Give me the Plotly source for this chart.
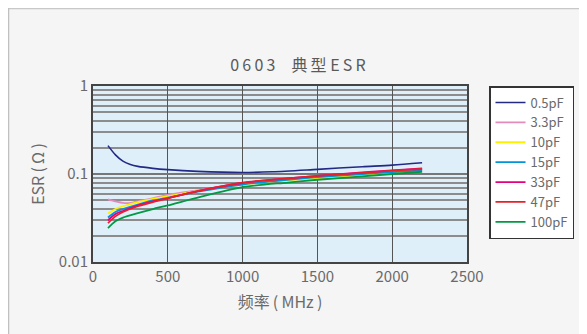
import plotly.graph_objects as go

# ---- data ----
series_names = ["0.5pF", "3.3pF", "10pF", "15pF", "33pF", "47pF", "100pF"]
series_colors = ["#232a86", "#e38bbd", "#fff000", "#0095d9", "#e4007f", "#e8202a", "#009a44"]

freq_05 = [100, 150, 200, 250, 300, 400, 500, 700, 1000, 1200, 1500, 1800, 2000, 2200]
esr_05 = [0.21, 0.165, 0.14, 0.128, 0.122, 0.116, 0.112, 0.107, 0.104, 0.106, 0.113, 0.121, 0.126, 0.134]

freq_33 = [100, 150, 200, 250, 300, 400, 500, 700, 1000, 1300, 1500, 1800, 2000, 2200]
esr_33 = [0.0516, 0.049, 0.047, 0.047, 0.049, 0.053, 0.058, 0.065, 0.077, 0.086, 0.091, 0.099, 0.104, 0.110]

freq = [100, 150, 200, 300, 400, 500, 700, 1000, 1300, 1500, 1800, 2000, 2200]
esr_10 = [0.0355, 0.040, 0.043, 0.048, 0.052, 0.056, 0.064, 0.076, 0.085, 0.090, 0.097, 0.102, 0.108]
esr_15 = [0.032, 0.037, 0.040, 0.045, 0.050, 0.054, 0.063, 0.076, 0.086, 0.092, 0.100, 0.105, 0.110]
esr_33pf = [0.0298, 0.035, 0.038, 0.044, 0.049, 0.053, 0.064, 0.079, 0.089, 0.095, 0.104, 0.110, 0.116]
esr_47 = [0.0277, 0.033, 0.037, 0.043, 0.048, 0.053, 0.064, 0.080, 0.089, 0.095, 0.103, 0.109, 0.114]
esr_100 = [0.0243, 0.029, 0.032, 0.036, 0.040, 0.044, 0.054, 0.071, 0.080, 0.086, 0.094, 0.100, 0.106]

x_ticks = [0, 500, 1000, 1500, 2000, 2500]
y_tickvals = [0.01, 0.1, 1]
y_ticktext = ["0.01", "0.1", "1"]

TS = "\u2009"  # thin space for letter spacing
title_text = TS.join("0603") + "\u2003" + TS.join("典型") + " " + TS.join("ESR")
x_title = "频率" + TS + "(" + TS + "MHz" + TS + ")"
y_title = "ESR" + TS + "(" + TS + "Ω" + TS + ")"

FONT = "Noto Sans CJK SC, Noto Sans, sans-serif"
TXT = "#6a6a6a"

xs = [freq_05, freq_33, freq, freq, freq, freq, freq]
ys = [esr_05, esr_33, esr_10, esr_15, esr_33pf, esr_47, esr_100]

fig = go.Figure()
for name, color, x, y in zip(series_names, series_colors, xs, ys):
    fig.add_trace(go.Scatter(
        x=x, y=y, name=name, mode="lines",
        line=dict(color=color, width=1.8 if name != "0.5pF" else 1.6, shape="spline", smoothing=0.8),
    ))

# page rendered with an 8px body margin, so layout is shifted by -8 px
W, H = 579, 326
L, T = 85, 78
pw, ph = 374, 176
R, B = W - L - pw, H - T - ph

def px_x(p):
    return (p - L) / pw

def px_y(p):
    return (H - B - p) / ph

# page frame top/left border
fig.add_shape(type="line", xref="paper", yref="paper",
              x0=px_x(0), x1=px_x(W + 5), y0=px_y(0.5), y1=px_y(0.5),
              line=dict(color="#c8c8c8", width=1.5), layer="below")
fig.add_shape(type="line", xref="paper", yref="paper",
              x0=px_x(0.5), x1=px_x(0.5), y0=px_y(0), y1=px_y(H + 5),
              line=dict(color="#c0c0c0", width=1.5), layer="below")

fig.update_layout(
    width=W, height=H,
    margin=dict(l=L, r=R, t=T, b=B),
    paper_bgcolor="#f5f5f5",
    plot_bgcolor="#dfeff9",
    font=dict(family=FONT, color=TXT, size=13),
    title=dict(text=title_text, x=290 / W, xanchor="center", y=1 - 57 / H, yanchor="middle",
               xref="container", yref="container",
               font=dict(size=16, color="#5a5a5a", family=FONT)),
    showlegend=True,
    legend=dict(
        x=px_x(481), xanchor="left", y=1.0, yanchor="top",
        bgcolor="white", bordercolor="#333333", borderwidth=1.5,
        font=dict(size=13, color=TXT, family=FONT),
        itemwidth=30, tracegroupgap=0,
    ),
    xaxis=dict(
        range=[0, 2500], tickvals=x_ticks, ticks="",
        showgrid=True, gridcolor="#555555", gridwidth=1,
        showline=True, linecolor="#444444", linewidth=2, mirror=True,
        zeroline=False,
        tickfont=dict(size=15, color=TXT, family=FONT),
        title=dict(text=x_title, font=dict(size=16, color=TXT, family=FONT), standoff=12),
    ),
    yaxis=dict(
        type="log", range=[-2, 0],
        tickvals=y_tickvals, ticktext=y_ticktext, ticks="",
        showgrid=True, gridcolor="#777777", gridwidth=2,
        minor=dict(dtick="D1", showgrid=True, gridcolor="#8c8c8c", gridwidth=1.8, ticks=""),
        showline=True, linecolor="#444444", linewidth=2, mirror=True,
        zeroline=False,
        tickfont=dict(size=15, color=TXT, family=FONT),
        title=dict(text=y_title, font=dict(size=16, color=TXT, family=FONT), standoff=10),
    ),
)

fig.write_html("out.html")
